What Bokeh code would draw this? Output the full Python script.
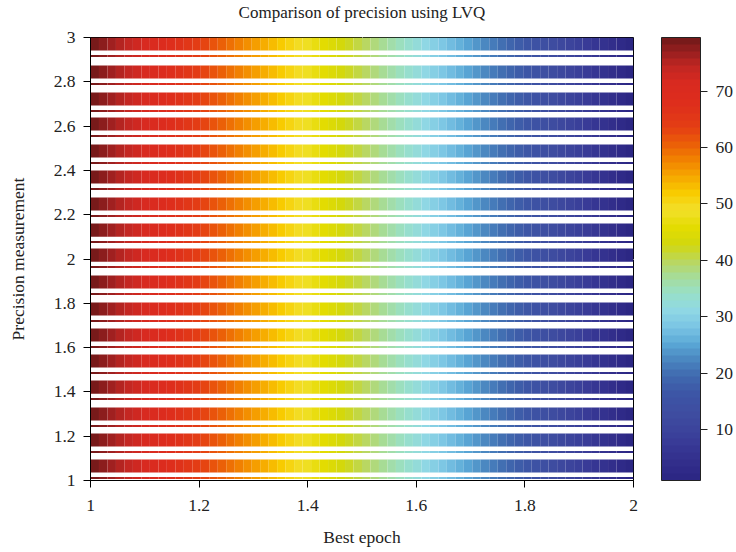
import numpy as np
from bokeh.plotting import figure
from bokeh.models import (ColumnDataSource, ColorBar, LinearColorMapper, FixedTicker,
                          Range1d, LinearAxis, Title)
from bokeh.embed import file_html
from bokeh.resources import INLINE

# ---------------- data ----------------
title_text = "Comparison of precision using LVQ"
x_label = "Best epoch"
y_label = "Precision measurement"

# value of each of the 64 columns along "Best epoch" (1 -> 2)
column_values = [79.0, 77.8, 76.6, 75.3, 74.1, 72.9, 71.7, 70.4, 69.2, 68.0,
                 66.8, 65.6, 64.3, 63.1, 61.9, 60.7, 59.4, 58.2, 57.0, 55.8,
                 54.6, 53.3, 52.1, 50.9, 49.7, 48.4, 47.2, 46.0, 44.8, 43.6,
                 42.3, 41.1, 39.9, 38.7, 37.4, 36.2, 35.0, 33.8, 32.6, 31.3,
                 30.1, 28.9, 27.7, 26.4, 25.2, 24.0, 22.8, 21.6, 20.3, 19.1,
                 17.9, 16.7, 15.4, 14.2, 13.0, 11.8, 10.6, 9.3, 8.1, 6.9,
                 5.7, 4.4, 3.2, 2.0]

# top of each measured band (precision measurement)
band_tops = [3.000, 2.874, 2.752, 2.639, 2.517, 2.400, 2.278, 2.160, 2.047,
             1.926, 1.804, 1.686, 1.569, 1.451, 1.330, 1.212, 1.095]

x_ticks = [1, 1.2, 1.4, 1.6, 1.8, 2]
y_ticks = [1, 1.2, 1.4, 1.6, 1.8, 2, 2.2, 2.4, 2.6, 2.8, 3]
cbar_ticks = [10, 20, 30, 40, 50, 60, 70]
c_low, c_high = 1.0, 79.5

# colour map anchors (value, colour)
cmap_values = [1, 4, 8, 12, 16, 19, 22, 25, 28, 31, 34, 37, 40, 43, 46, 49,
               52, 55, 58, 61, 64, 68, 72, 75, 77, 79.5]
cmap_colors = ["#2c2784", "#332f8d", "#3a3e99", "#3e4ba0", "#3d56a6", "#3f68ae",
               "#4a86c0", "#5aa8d6", "#7ac4e4", "#90d8e4", "#98e0c8", "#a6dc98",
               "#bcd65a", "#d2d80c", "#e4dc00", "#f2e02c", "#f8cc00", "#f6a800",
               "#f28400", "#eb5e08", "#e43e14", "#de2e1c", "#d82a20", "#c02622",
               "#a02020", "#781a1a"]

# ---------------- palette ----------------
def hex2rgb(h):
    h = h.lstrip("#")
    return [int(h[i:i + 2], 16) for i in (0, 2, 4)]

rgb = np.array([hex2rgb(c) for c in cmap_colors], dtype=float)
levels = np.linspace(c_low, c_high, 64)
palette = []
for v in levels:
    r = np.interp(v, cmap_values, rgb[:, 0])
    g = np.interp(v, cmap_values, rgb[:, 1])
    b = np.interp(v, cmap_values, rgb[:, 2])
    palette.append("#%02x%02x%02x" % (int(round(r)), int(round(g)), int(round(b))))

mapper = LinearColorMapper(palette=palette, low=c_low, high=c_high)

# ---------------- geometry ----------------
thick_h = 0.059
thin_off = 0.0835
thin_h = 0.009
n = len(column_values)
edges = np.linspace(1, 2, n + 1)

left, right, top, bottom, val = [], [], [], [], []
for t in band_tops:
    for (bt, bb) in [(t, t - thick_h), (t - thin_off + thin_h / 2, t - thin_off - thin_h / 2)]:
        for i, v in enumerate(column_values):
            left.append(edges[i]); right.append(edges[i + 1])
            top.append(bt); bottom.append(max(bb, 1.0)); val.append(v)

src = ColumnDataSource(dict(left=left, right=right, top=top, bottom=bottom, value=val))

FONT = "Liberation Serif"
FS = "17.5px"

p = figure(width=736, height=552, output_backend="svg", toolbar_location=None,
           x_range=Range1d(1, 2), y_range=Range1d(1, 3),
           min_border_left=90, min_border_right=102, min_border_top=37, min_border_bottom=72,
           title=None)
p.quad(left="left", right="right", top="top", bottom="bottom", source=src,
       fill_color={"field": "value", "transform": mapper}, line_color=None)

p.grid.visible = False
p.outline_line_color = "black"
p.outline_line_width = 1
p.background_fill_color = "white"
p.border_fill_color = "white"

for ax, ticks in ((p.xaxis[0], x_ticks), (p.yaxis[0], y_ticks)):
    ax.ticker = FixedTicker(ticks=ticks)
    ax.major_label_text_font = FONT
    ax.major_label_text_font_size = FS
    ax.major_label_text_color = "#222222"
    ax.axis_label_text_font = FONT
    ax.axis_label_text_font_size = FS
    ax.axis_label_text_font_style = "normal"
    ax.axis_label_text_color = "#222222"
    ax.major_tick_out = 7
    ax.major_tick_in = 0
    ax.minor_tick_out = 0
    ax.minor_tick_in = 0
    ax.axis_line_color = "black"
    ax.major_tick_line_color = "black"

p.xaxis.axis_label = x_label
p.yaxis.axis_label = y_label
p.xaxis.major_label_standoff = 12
p.xaxis.axis_label_standoff = 13
p.yaxis.major_label_standoff = 8
p.yaxis.axis_label_standoff = 23
p.xaxis.major_label_overrides = {1: "1", 2: "2"}
p.yaxis.major_label_overrides = {1: "1", 2: "2", 3: "3"}

# invisible spacer between the frame and the title
top_spacer = LinearAxis(ticker=FixedTicker(ticks=[1.5]), major_tick_out=12, major_tick_in=0,
                        axis_line_color=None, major_tick_line_color="white",
                        minor_tick_line_color=None, major_label_standoff=0,
                        major_label_overrides={1.5: ""}, major_label_text_color="white",
                        major_label_text_font_size="1px")
p.add_layout(top_spacer, "above")

ttl = Title(text=title_text, align="center", vertical_align="top", standoff=4,
            text_font=FONT, text_font_size="17px", text_font_style="normal",
            text_color="#222222")
p.add_layout(ttl, "above")

# invisible spacer between the frame and the colour bar
spacer = LinearAxis(ticker=FixedTicker(ticks=[2]), major_tick_out=28, major_tick_in=0,
                    axis_line_color=None, major_tick_line_color="white",
                    minor_tick_line_color=None, major_label_standoff=0,
                    major_label_overrides={2: ""}, major_label_text_color="white",
                    major_label_text_font_size="1px")
p.add_layout(spacer, "right")

cb = ColorBar(color_mapper=mapper, ticker=FixedTicker(ticks=cbar_ticks), width=39,
              padding=0, margin=0, bar_line_color="#222222", bar_line_width=1,
              major_tick_out=7, major_tick_in=0, major_tick_line_color="#222222",
              minor_tick_line_color=None, label_standoff=8,
              major_label_text_font=FONT, major_label_text_font_size=FS,
              major_label_text_color="#222222", background_fill_color=None,
              border_line_color=None)
p.add_layout(cb, "right")

open("out.html", "w").write(file_html(p, INLINE))
